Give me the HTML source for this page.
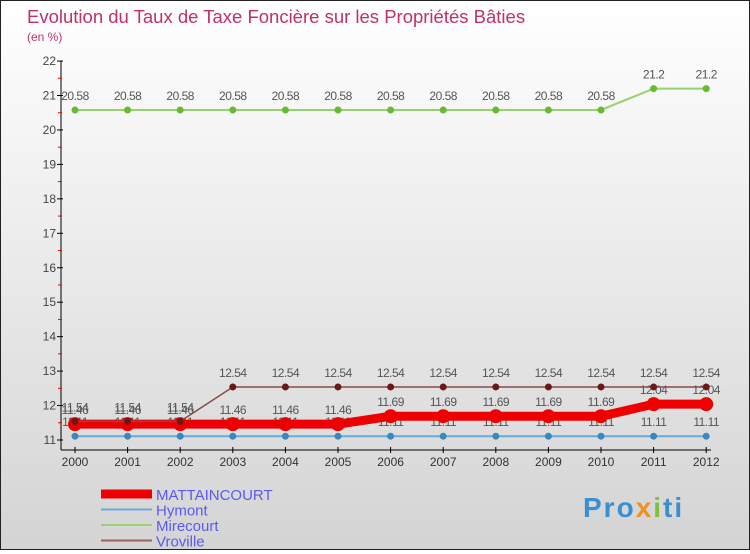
<!DOCTYPE html>
<html><head><meta charset="utf-8"><style>
body{margin:0;width:750px;height:550px;overflow:hidden;font-family:"Liberation Sans",sans-serif}
#wrap{position:relative;width:748px;height:548px;border:1px solid #222;background:linear-gradient(#fff,#d4d4d4)}
</style></head><body>
<div id="wrap">
<svg id="c" width="748" height="548" xmlns="http://www.w3.org/2000/svg" font-family="Liberation Sans, sans-serif">
<text x="26" y="22" font-size="18.5" fill="#c0306a">Evolution du Taux de Taxe Foncière sur les Propriétés Bâties</text>
<text x="26" y="40" font-size="12" fill="#c0306a">(en %)</text>
<g id="axes"></g><g id="series"></g><g id="legend"></g>
<text x="582" y="516" font-size="28" font-weight="bold" letter-spacing="2" fill="#3a8fd0">Pro<tspan fill="#f09020">x</tspan><tspan fill="#80c040">i</tspan>ti</text>
</svg></div>
<script>
const years=[2000,2001,2002,2003,2004,2005,2006,2007,2008,2009,2010,2011,2012];
const yTicks=[11,12,13,14,15,16,17,18,19,20,21,22];
const mattaincourt=[11.46,11.46,11.46,11.46,11.46,11.46,11.69,11.69,11.69,11.69,11.69,12.04,12.04];
const hymont=[11.11,11.11,11.11,11.11,11.11,11.11,11.11,11.11,11.11,11.11,11.11,11.11,11.11];
const mirecourt=[20.58,20.58,20.58,20.58,20.58,20.58,20.58,20.58,20.58,20.58,20.58,21.2,21.2];
const vroville=[11.54,11.54,11.54,12.54,12.54,12.54,12.54,12.54,12.54,12.54,12.54,12.54,12.54];
const NS="http://www.w3.org/2000/svg";
const X=i=>74+i*52.6;
const Y=v=>439-(v-11)*34.45;
function mk(t,a,p){const e=document.createElementNS(NS,t);for(const k in a)e.setAttribute(k,a[k]);p.appendChild(e);return e;}
const ax=document.getElementById('axes');
let l=mk('line',{x1:60,y1:Y(22),x2:60,y2:449,stroke:'#000'},ax);


l=mk('line',{x1:60,y1:449,x2:710,y2:449,stroke:'#000'},ax);


yTicks.forEach(v=>{
 mk('line',{x1:56,y1:Y(v),x2:62,y2:Y(v),stroke:'#000'},ax);
 if(v<22)mk('line',{x1:57,y1:Y(v+0.5),x2:61,y2:Y(v+0.5),stroke:'#e00'},ax);
 const t=mk('text',{x:55,y:Y(v)+4,'font-size':12,fill:'#444','text-anchor':'end'},ax);t.textContent=v;
 
 
});
years.forEach((y,i)=>{
 mk('line',{x1:X(i),y1:446,x2:X(i),y2:452,stroke:'#000'},ax);
 const t=mk('text',{x:X(i),y:465,'font-size':12,fill:'#333','text-anchor':'middle'},ax);t.textContent=y;
 
 
});
const sg=document.getElementById('series');
function series(name,data,color,w,r,dot,fmt){
 const g=mk('g',{},sg);
 
 
 mk('polyline',{points:data.map((v,i)=>X(i)+','+Y(v)).join(' '),fill:'none',stroke:color,'stroke-width':w},g);
 data.forEach((v,i)=>{
  const c=mk('circle',{cx:X(i),cy:Y(v),r:r,fill:dot},g);
  
  
  const t=mk('text',{x:X(i),y:Y(v)-10,'font-size':12,fill:'#555','text-anchor':'middle','letter-spacing':'-0.5'},g);
  t.textContent=fmt(v);
  
  
 });
}
const f=v=>String(v);
series('hymont',hymont,'#6aaad8',2,3.5,'#3a88c0',f);
series('mirecourt',mirecourt,'#99d070',2,3.5,'#66bb33',f);
series('mattaincourt',mattaincourt,'#ee0000',9,7,'#ee0000',f);
series('vroville',vroville,'#8b4a4a',1.5,3.5,'#6a1818',f);
const lg=document.getElementById('legend');
[['MATTAINCOURT','#ee0000',9],['Hymont','#6aaad8',2],['Mirecourt','#99d070',2],['Vroville','#a06060',2]].forEach((d,i)=>{
 const g=mk('g',{},lg);
 
 
 const y=493+i*15.5;
 mk('line',{x1:100,y1:y,x2:151,y2:y,stroke:d[1],'stroke-width':d[2]},g);
 const t=mk('text',{x:155,y:y+6,'font-size':15,fill:'#5a5af0'},g);t.textContent=d[0];
});
</script>
</body></html>
